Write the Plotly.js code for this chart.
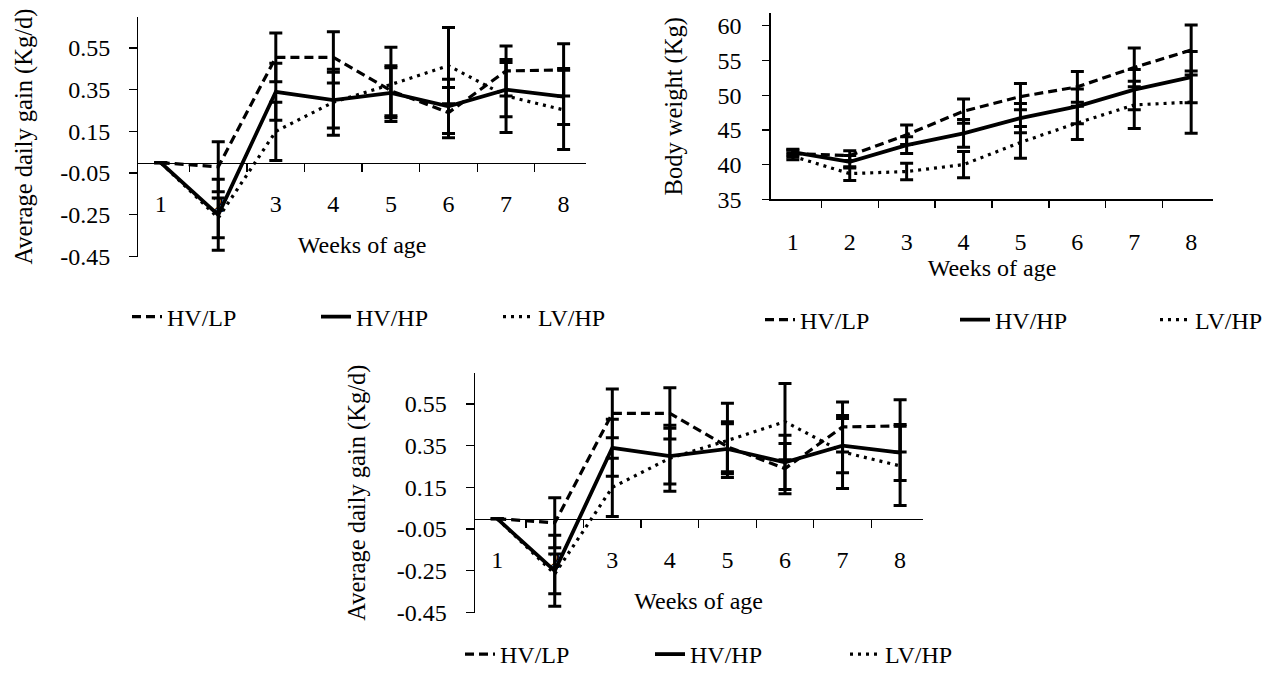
<!DOCTYPE html>
<html>
<head>
<meta charset="utf-8">
<script src="https://cdn.plot.ly/plotly-3.0.1.min.js"></script>
<style>
html,body{margin:0;padding:0;background:#fff;overflow:hidden;}
#wrap{width:1263px;height:678px;overflow:hidden;}
#chart{width:1263px;height:678px;}
</style>
</head>
<body>
<div id="wrap"><div id="chart"></div></div>
<script>
// ---- data ----
const weeks = ['1','2','3','4','5','6','7','8'];
const seriesNames = ['HV/LP','HV/HP','LV/HP'];

// Average daily gain (Kg/d)
const adgHVLP    = [0, -0.02, 0.505, 0.505, 0.345, 0.24, 0.44, 0.445];
const adgHVLPerr = [0, 0.12, 0.117, 0.123, 0.12, 0.12, 0.12, 0.125];
const adgHVHP    = [0, -0.25, 0.34, 0.30, 0.335, 0.27, 0.35, 0.317];
const adgHVHPerr = [0, 0.17, 0.137, 0.134, 0.12, 0.13, 0.13, 0.134];
const adgLVHP    = [0, -0.265, 0.15, 0.29, 0.375, 0.465, 0.32, 0.253];
const adgLVHPerr = [0, 0.095, 0.14, 0.158, 0.178, 0.183, 0.175, 0.19];
const adgTicks   = [-0.45, -0.25, -0.05, 0.15, 0.35, 0.55];
const adgTickText = ['-0.45', '-0.25', '-0.05', '0.15', '0.35', '0.55'];

// Body weight (Kg)
const bwHVLP    = [41.6, 41.3, 44.3, 47.7, 49.8, 51.2, 54.0, 56.5];
const bwHVLPerr = [0.5, 0.7, 1.4, 1.75, 1.9, 2.2, 2.8, 3.6];
const bwHVHP    = [41.8, 40.4, 42.8, 44.5, 46.7, 48.4, 50.8, 52.6];
const bwHVHPerr = [0.4, 0.9, 1.2, 2.0, 2.1, 2.5, 2.9, 3.7];
const bwLVHP    = [41.2, 38.7, 39.0, 40.0, 43.2, 46.0, 48.6, 49.0];
const bwLVHPerr = [0.5, 1.0, 1.2, 1.9, 2.3, 2.4, 3.4, 4.5];
const bwTicks   = [35, 40, 45, 50, 55, 60];

// ---- styling ----
const W = 1263, H = 678;
const FONT = 'Liberation Serif, Times New Roman, serif';
const dashes = ['9px,5px', 'solid', '3px,5px'];
const widths = [3.2, 3.8, 3.2];
// legend entry widths (px) per panel and series
const legW = {
  legend:  [144, 137, 75],
  legend2: [150, 155, 75],
  legend3: [145, 150, 75]
};

function px2x(p){ return p / W; }
function px2y(p){ return 1 - p / H; }

const adgRange = [-0.45, 0.70];
const bwRange = [35, 61.8];

// panel domains (pixels -> paper)
const dom = {
  a: {x:[px2x(138.3), px2x(586)], y:[px2y(256.5), px2y(16.7)]},
  b: {x:[px2x(770.7), px2x(1213.3)], y:[px2y(199.3), px2y(13.3)]},
  c: {x:[px2x(474.8), px2x(922.5)], y:[px2y(612.5), px2y(372.7)]}
};
function zeroPos(d, r){ return d.y[0] + (0 - r[0]) / (r[1] - r[0]) * (d.y[1] - d.y[0]); }

function mk(x, y, err, i, xa, ya, leg){
  return {
    type:'scatter', mode:'lines', x:x, y:y, name:seriesNames[i],
    xaxis:xa, yaxis:ya, legend:leg, legendwidth:legW[leg][i],
    line:{color:'#000', width:widths[i], dash:dashes[i]},
    error_y:{type:'data', array:err, visible:true, color:'#000', thickness:3, width:6.5},
    hoverinfo:'skip'
  };
}

const adgVals = [adgHVLP, adgHVHP, adgLVHP];
const adgErrs = [adgHVLPerr, adgHVHPerr, adgLVHPerr];
const bwVals = [bwHVLP, bwHVHP, bwLVHP];
const bwErrs = [bwHVLPerr, bwHVHPerr, bwLVHPerr];

const traces = [];
for (let i = 0; i < 3; i++) traces.push(mk(weeks, adgVals[i], adgErrs[i], i, 'x', 'y', 'legend'));
for (let i = 0; i < 3; i++) traces.push(mk(weeks, bwVals[i], bwErrs[i], i, 'x2', 'y2', 'legend2'));
for (let i = 0; i < 3; i++) traces.push(mk(weeks, adgVals[i], adgErrs[i], i, 'x3', 'y3', 'legend3'));

const tickFont = {family:FONT, size:24, color:'#000'};
const xTitleFont = {family:FONT, size:24, color:'#000'};
const yTitleFont = {family:FONT, size:24.5, color:'#000'};

function xAxis(d, extra){
  return Object.assign({
    domain:d.x, type:'category', showline:true, linecolor:'#000', linewidth:1.3,
    ticks:'outside', tickson:'boundaries', ticklen:8, tickcolor:'#000', tickwidth:1.3,
    showgrid:false, zeroline:false, tickfont:tickFont,
    title:{text:'Weeks of age', font:xTitleFont, standoff:20}, fixedrange:true
  }, extra);
}
function yAxis(d, r, tv, tt, title, standoff, extra){
  return Object.assign({
    domain:d.y, range:r, showline:true, linecolor:'#000', linewidth:1.3,
    ticks:'outside', ticklen:8, tickcolor:'#000', tickwidth:1.3,
    tickvals:tv, ticktext:tt, showgrid:false, zeroline:false, tickfont:tickFont,
    title:{text:title, font:yTitleFont, standoff:standoff}, fixedrange:true
  }, extra);
}

function legend(xPx, yPx, yanchor){
  return {
    orientation:'h', x:px2x(xPx), y:px2y(yPx), xanchor:'left', yanchor:yanchor || 'middle',
    font:{family:FONT, size:24, color:'#000'}, entrywidthmode:'pixels',
    bgcolor:'rgba(0,0,0,0)', traceorder:'normal', borderwidth:0
  };
}

const layout = {
  width:W, height:H, margin:{l:0, r:0, t:0, b:0, autoexpand:false},
  paper_bgcolor:'#fff', plot_bgcolor:'rgba(0,0,0,0)', showlegend:true,
  xaxis: xAxis(dom.a, {anchor:'free', position:zeroPos(dom.a, adgRange), ticklabelstandoff:19}),
  yaxis: yAxis(dom.a, adgRange, adgTicks, adgTickText, 'Average daily gain (Kg/d)', 20, {anchor:'x', ticklabelstandoff:14}),
  xaxis2: xAxis(dom.b, {anchor:'y2', ticklabelstandoff:21, ticklen:7, title:{text:'Weeks of age', font:xTitleFont, standoff:0}}),
  yaxis2: yAxis(dom.b, bwRange, bwTicks, bwTicks.map(String), 'Body weight (Kg)', 28, {anchor:'x2', ticklen:7, ticklabelstandoff:16}),
  xaxis3: xAxis(dom.c, {anchor:'free', position:zeroPos(dom.c, adgRange), ticklabelstandoff:19}),
  yaxis3: yAxis(dom.c, adgRange, adgTicks, adgTickText, 'Average daily gain (Kg/d)', 24, {anchor:'x3', ticklabelstandoff:14}),
  legend: legend(127, 317),
  legend2: legend(760, 320),
  legend3: legend(460, 677, 'bottom')
};

Plotly.newPlot('chart', traces, layout, {staticPlot:true, displayModeBar:false});
</script>
</body>
</html>
